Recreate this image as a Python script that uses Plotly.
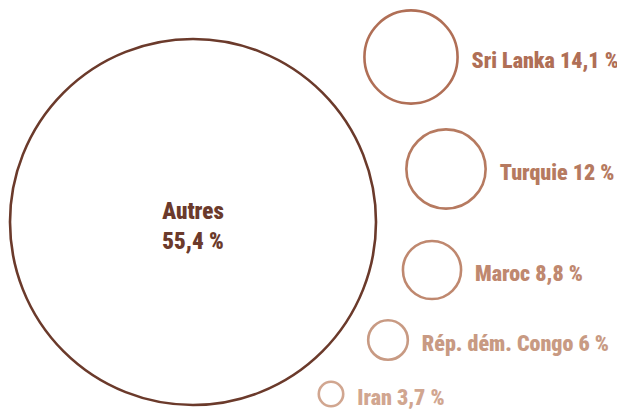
import plotly.graph_objects as go

labels = ["Autres", "Sri Lanka", "Turquie", "Maroc", "Rép. dém. Congo", "Iran"]
values = [55.4, 14.1, 12.0, 8.8, 6.0, 3.7]
value_text = ["55,4 %", "14,1 %", "12 %", "8,8 %", "6 %", "3,7 %"]

# layout (packing) positions of circle centres, in pixel-like coordinates
cx = [193, 411, 446, 432, 388, 331]
cy = [222, 57, 169, 270, 340, 394]
colors = ["#6b3a2b", "#b06f56", "#b67a60", "#bf886f", "#c89a83", "#d1a690"]
px_per_unit = 366 / 55.4

fig = go.Figure()
fig.add_trace(go.Scatter(
    x=cx, y=cy, mode="markers",
    marker=dict(size=[v * px_per_unit for v in values], sizemode="diameter",
                color="rgba(255,255,255,0)", opacity=1,
                line=dict(color=colors, width=2.6)),
    hoverinfo="text", hovertext=[f"{l} {t}" for l, t in zip(labels, value_text)],
    showlegend=False,
))

font_family = ("Roboto Condensed, Liberation Sans Narrow, DejaVu Sans Condensed, "
               "Open Sans Condensed, Roboto, sans-serif")
# centre label for the largest circle
fig.add_trace(go.Scatter(
    x=[cx[0]], y=[cy[0] + 6], mode="text",
    text=[f"{labels[0]}<br>{value_text[0]}"],
    textposition="middle center",
    textfont=dict(family=font_family, size=23, color=colors[0], weight=900),
    showlegend=False, hoverinfo="skip",
))
# side labels
fig.add_trace(go.Scatter(
    x=[cx[i] + values[i] * px_per_unit / 2 + 14 for i in range(1, 6)],
    y=[y + 5 for y in cy[1:]], mode="text",
    text=[f"{labels[i]} {value_text[i]}" for i in range(1, 6)],
    textposition="middle right",
    textfont=dict(family=font_family, size=22, color=colors[1:], weight=900),
    showlegend=False, hoverinfo="skip",
))

fig.update_layout(
    width=625, height=412,
    margin=dict(l=0, r=0, t=0, b=0),
    paper_bgcolor="white", plot_bgcolor="white",
    xaxis=dict(range=[8, 633], visible=False, fixedrange=True),
    yaxis=dict(range=[420, 8], visible=False, fixedrange=True),
)
fig.write_html("out.html")
